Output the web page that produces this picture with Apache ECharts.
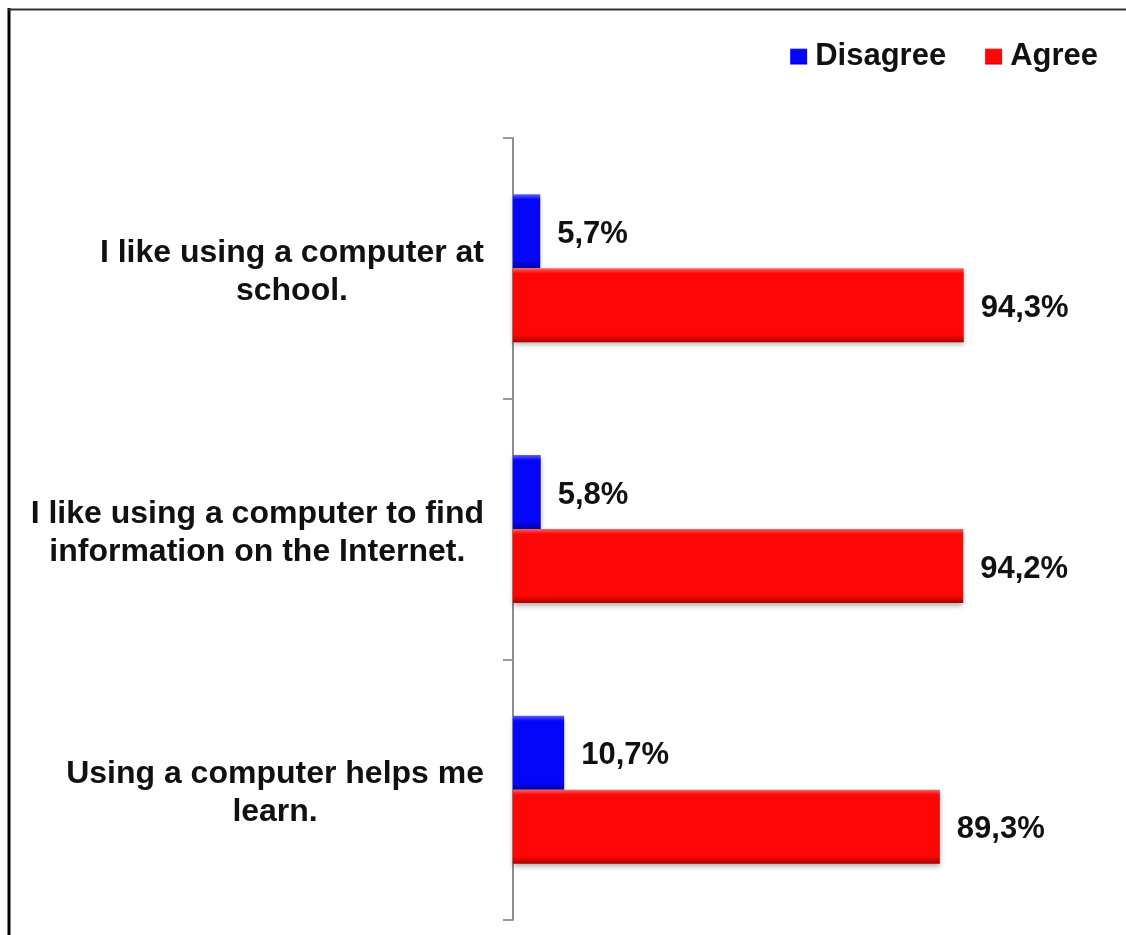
<!DOCTYPE html>
<html>
<head>
<meta charset="utf-8">
<style>
  html, body { margin: 0; padding: 0; background: #fff; }
  #chart { width: 1126px; height: 935px; }
</style>
<script src="https://cdn.jsdelivr.net/npm/echarts@6/dist/echarts.min.js"></script>
</head>
<body>
<div id="chart"></div>
<script>
// Survey statements (line breaks as they wrap on the axis)
const categories = [
  'I like using a computer at\nschool.',
  'I like using a computer to find\ninformation on the Internet.',
  'Using a computer helps me\nlearn.'
];
const seriesNames = ['Disagree', 'Agree'];
const disagreeValues = [5.7, 5.8, 10.7];
const agreeValues = [94.3, 94.2, 89.3];

const FONT = '"Liberation Sans", Arial, Helvetica, sans-serif';

// Vertical gradient giving the bars a bevelled, glossy look
function bevel(light, mid, dark) {
  return new echarts.graphic.LinearGradient(0, 0, 0, 1, [
    { offset: 0, color: light },
    { offset: 0.07, color: mid },
    { offset: 0.9, color: mid },
    { offset: 1, color: dark }
  ]);
}

const fmtPct = p => p.value.toFixed(1).replace('.', ',') + '%';

const valueLabel = {
  show: true,
  position: 'right',
  distance: 17,
  offset: [0, 3],
  formatter: fmtPct,
  fontFamily: FONT,
  fontWeight: 'bold',
  fontSize: 31,
  color: '#111'
};

const chart = echarts.init(document.getElementById('chart'), null, { renderer: 'canvas' });

chart.setOption({
  backgroundColor: '#fff',
  animation: false,
  graphic: [
    // frame: left and top rules
    { type: 'line', shape: { x1: 9, y1: 8, x2: 9, y2: 935 }, style: { stroke: '#000', lineWidth: 3 } },
    { type: 'line', shape: { x1: 8, y1: 9.5, x2: 1126, y2: 9.5 }, style: { stroke: '#333', lineWidth: 2 } }
  ],
  legend: {
    data: seriesNames,
    right: 23,
    top: 36,
    itemWidth: 17,
    itemHeight: 16,
    itemGap: 39,
    icon: 'rect',
    textStyle: { fontFamily: FONT, fontWeight: 'bold', fontSize: 31, color: '#111', padding: [0, 0, 0, 3] }
  },
  grid: { left: 513, right: 135, top: 138, bottom: 15, containLabel: false },
  xAxis: {
    type: 'value',
    min: 0,
    max: 100,
    show: false
  },
  yAxis: {
    type: 'category',
    data: categories,
    inverse: true,
    axisLine: { show: true, lineStyle: { color: '#8c8c8c', width: 2 } },
    axisTick: { show: true, length: 10, lineStyle: { color: '#9a9a9a', width: 2 } },
    axisLabel: {
      margin: 29,
      align: 'right',
      padding: [8, 0, 0, 0],
      formatter: v => v.split('\n').map(s => '{c|' + s + '}').join('\n'),
      rich: {
        c: {
          align: 'center',
          fontFamily: FONT,
          fontWeight: 'bold',
          fontSize: 32,
          lineHeight: 38,
          color: '#111'
        }
      }
    },
    splitLine: { show: false }
  },
  series: [
    {
      name: 'Disagree',
      type: 'bar',
      data: disagreeValues,
      barWidth: 74,
      barGap: '0%',
      itemStyle: {
        color: bevel('#6060ff', '#0505fa', '#0000a0'),
        shadowColor: 'rgba(0,0,0,0.3)',
        shadowBlur: 5,
        shadowOffsetY: 3
      },
      label: valueLabel
    },
    {
      name: 'Agree',
      type: 'bar',
      data: agreeValues,
      barWidth: 74,
      barGap: '0%',
      itemStyle: {
        color: bevel('#ff6060', '#fe0606', '#a80000'),
        shadowColor: 'rgba(0,0,0,0.3)',
        shadowBlur: 5,
        shadowOffsetY: 3
      },
      label: valueLabel
    }
  ]
});
</script>
</body>
</html>
